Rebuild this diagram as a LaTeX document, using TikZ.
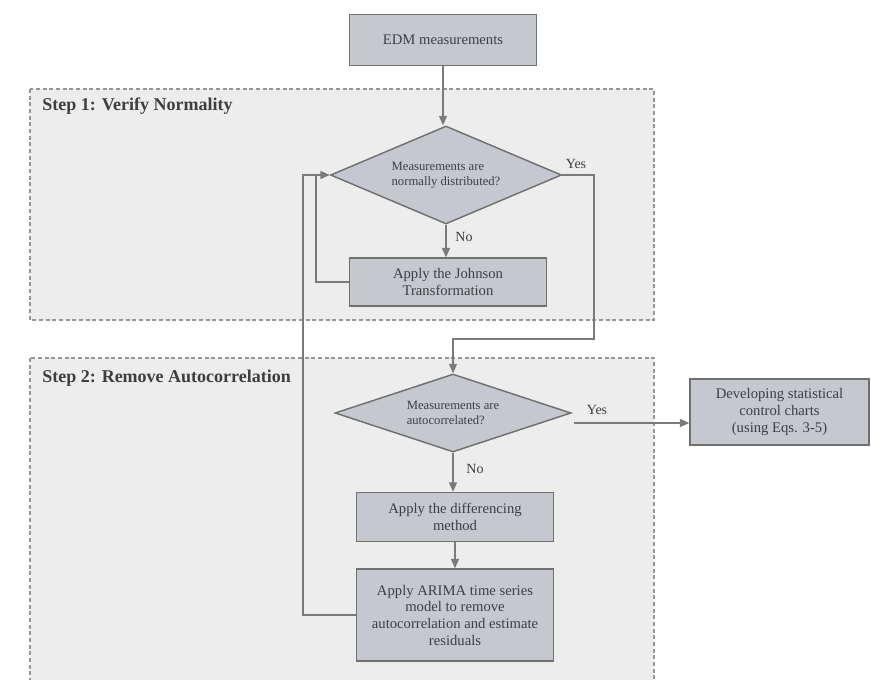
\documentclass[tikz,border=0pt]{standalone}
\usepackage{fontspec}
\setmainfont{Liberation Serif}
\usetikzlibrary{shapes.geometric,arrows.meta}

\definecolor{boxfill}{RGB}{197,201,207}
\definecolor{boxline}{RGB}{112,112,112}
\definecolor{stepfill}{RGB}{237,237,237}
\definecolor{stepline}{RGB}{150,150,150}
\definecolor{connline}{RGB}{122,122,122}
\definecolor{txt}{RGB}{62,62,62}

\tikzset{
  procbox/.style={draw=boxline, fill=boxfill, line width=1.1pt, inner sep=0pt,
    align=center, text=txt, font=\fontsize{11}{12.5}\selectfont},
  decision/.style={diamond, draw=boxline, fill=boxfill, line width=1.1pt, inner sep=0pt,
    align=left, text=txt, font=\fontsize{9.5}{11.5}\selectfont},
  stepbox/.style={draw=stepline, fill=stepfill, line width=0.8pt, dash pattern=on 3pt off 2pt},
  steptitle/.style={anchor=west, inner sep=0pt, text=txt, font=\fontsize{13.5}{15}\selectfont\bfseries},
  answer/.style={inner sep=0pt, text=txt, font=\fontsize{10.5}{12}\selectfont},
  conn/.style={draw=connline, line width=1pt},
  arr/.style={conn, -{Triangle[length=7pt,width=6pt]}}
}

\begin{document}
\begin{tikzpicture}[x=0.75pt,y=-0.75pt]
  \clip (0,0) rectangle (871,679);

  \draw[stepbox] (30,89) rectangle (654,320);
  \draw[stepbox] (30,358) rectangle (654,690);
  \node[steptitle] (title1) at (42,106) {Step 1: Verify Normality};
  \node[steptitle] (title2) at (42,378) {Step 2: Remove Autocorrelation};

  \node[procbox, minimum width=140.25pt, minimum height=38.25pt] (edm) at (443,40) {EDM measurements};
  \node[decision, aspect=2.36, minimum width=173.25pt, minimum height=73.5pt] (normal) at (446,175)
    {Measurements are\\normally distributed?};
  \node[procbox, minimum width=147.75pt, minimum height=36pt] (johnson) at (448,282)
    {Apply the Johnson\\Transformation};
  \node[decision, aspect=3.03, minimum width=177pt, minimum height=58.5pt] (autocorr) at (453,413)
    {Measurements are\\autocorrelated?};
  \node[procbox, minimum width=147.75pt, minimum height=36.75pt] (diff) at (455,517)
    {Apply the differencing\\method};
  \node[procbox, minimum width=147.75pt, minimum height=69pt] (arima) at (455,615)
    {Apply ARIMA time series\\model to remove\\autocorrelation and estimate\\residuals};
  \node[procbox, minimum width=134.25pt, minimum height=49.5pt] (charts) at (779.5,412)
    {Developing statistical\\control charts\\(using Eqs. 3-5)};

  \node[answer] (yes1) at (576,164) {Yes};
  \node[answer] (no1) at (464,237) {No};
  \node[answer] (yes2) at (597,410) {Yes};
  \node[answer] (no2) at (475,469) {No};

  \coordinate (bendA) at (594,175);
  \coordinate (bendB) at (594,339);
  \coordinate (loopin) at (316,175);
  \coordinate (loopout) at (303,175);
  \coordinate (yesstart) at (574,423);

  \draw[arr] (edm.south) -- (edm.south |- normal.north);
  \draw[arr] (normal.east) -- (bendA) -- (bendB) -| (autocorr.north);
  \draw[arr] (normal.south) -- (normal.south |- johnson.north);
  \draw[conn] (johnson.west) -| (loopin);
  \draw[conn] (arima.west) -| (loopout) -- (loopin);
  \draw[arr] (loopin) -- (normal.west);
  \draw[arr] (yesstart) -- (yesstart -| charts.west);
  \draw[arr] (autocorr.south) -- (autocorr.south |- diff.north);
  \draw[arr] (diff.south) -- (diff.south |- arima.north);
\end{tikzpicture}
\end{document}
